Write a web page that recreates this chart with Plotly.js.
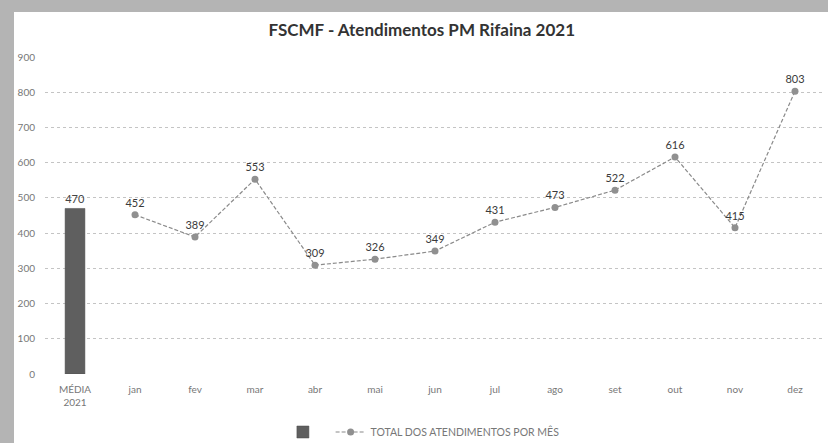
<!DOCTYPE html>
<html>
<head>
<meta charset="utf-8">
<script src="https://cdn.plot.ly/plotly-3.0.1.min.js"></script>
<style>
  html, body { margin: 0; padding: 0; width: 828px; height: 443px; overflow: hidden; background: #b4b4b4; }
  #chart { position: absolute; left: 14px; top: 12px; width: 814px; height: 431px; background: #ffffff; }
</style>
</head>
<body>
<div id="chart"></div>
<script>
const categories = ["MÉDIA<br>2021", "jan", "fev", "mar", "abr", "mai", "jun", "jul", "ago", "set", "out", "nov", "dez"];
const mediaCategory = ["MÉDIA<br>2021"];
const mediaValue = [470];
const months = ["jan", "fev", "mar", "abr", "mai", "jun", "jul", "ago", "set", "out", "nov", "dez"];
const monthlyTotals = [452, 389, 553, 309, 326, 349, 431, 473, 522, 616, 415, 803];
const yTicks = [0, 100, 200, 300, 400, 500, 600, 700, 800, 900];
const lineName = "TOTAL DOS ATENDIMENTOS POR MÊS";
const chartTitle = "FSCMF - Atendimentos PM Rifaina 2021";

const fontFam = "Lato, 'Open Sans', sans-serif";

const traces = [
  {
    type: "bar",
    x: mediaCategory,
    y: mediaValue,
    name: " ",
    width: 0.33,
    marker: { color: "#5f5f5f", line: { color: "#4a4a4a", width: 0.5 } },
    text: mediaValue.map(String),
    textposition: "outside",
    textfont: { family: fontFam, size: 11, color: "#444444" },
    cliponaxis: false,
    hoverinfo: "x+y"
  },
  {
    type: "scatter",
    mode: "lines+markers+text",
    x: months,
    y: monthlyTotals,
    name: lineName,
    line: { color: "#8a8a8a", width: 1.2, dash: "4px,2px" },
    marker: { color: "#909090", size: 7, symbol: "circle" },
    text: monthlyTotals.map(String),
    textposition: "top center",
    textfont: { family: fontFam, size: 11, color: "#3a3a3a" },
    cliponaxis: false
  }
];

const layout = {
  width: 814,
  height: 431,
  margin: { l: 31, r: 3, t: 45, b: 69, autoexpand: false },
  paper_bgcolor: "#ffffff",
  plot_bgcolor: "#ffffff",
  font: { family: fontFam, color: "#777777", size: 10 },
  title: {
    text: "<b>" + chartTitle + "</b>",
    font: { family: fontFam, size: 17, color: "#333333" },
    x: 0.483, xanchor: "center", xref: "paper",
    y: 0.958, yanchor: "middle", yref: "container"
  },
  showlegend: true,
  legend: {
    orientation: "h",
    x: 0.305, xanchor: "left", xref: "paper",
    y: 0.0255, yanchor: "middle", yref: "container",
    font: { family: fontFam, size: 10.5, color: "#777777" },
    bgcolor: "rgba(0,0,0,0)",
    traceorder: "normal"
  },
  xaxis: {
    type: "category",
    categoryorder: "array",
    categoryarray: categories,
    range: [-0.5, categories.length - 0.5],
    showgrid: false,
    zeroline: false,
    showline: false,
    ticks: "",
    ticklabelstandoff: 8,
    tickfont: { family: fontFam, size: 10, color: "#777777" }
  },
  yaxis: {
    range: [0, 900],
    tickvals: yTicks,
    ticktext: yTicks.map(String),
    showgrid: true,
    gridcolor: "#c4c4c4",
    griddash: "dot",
    gridwidth: 1,
    zeroline: false,
    showline: false,
    ticks: "",
    ticklabelstandoff: 9,
    tickfont: { family: fontFam, size: 10, color: "#777777" }
  },
  bargap: 0.6
};

Plotly.newPlot("chart", traces, layout, { displayModeBar: false, staticPlot: true });
</script>
</body>
</html>
